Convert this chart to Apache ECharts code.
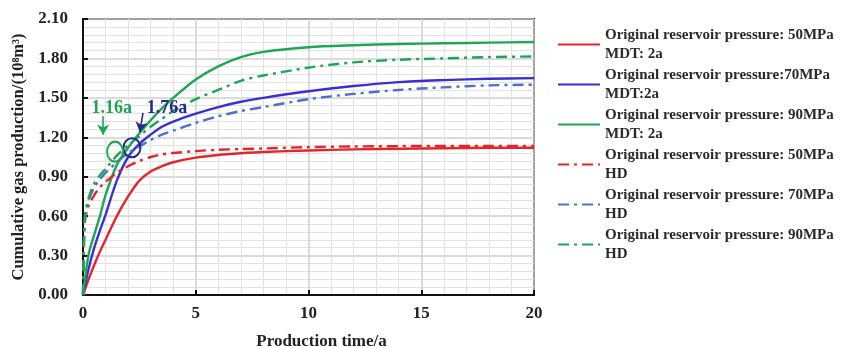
<!DOCTYPE html>
<html><head><meta charset="utf-8">
<script src="https://cdn.jsdelivr.net/npm/echarts@6/dist/echarts.min.js"></script>
<style>html,body{margin:0;padding:0;background:#fff}#c{width:841px;height:348px}</style>
</head><body><div id="c"></div>
<script>
const timeMDT = [0,0.25,0.5,0.75,1,1.5,2,2.5,3,3.5,4,5,6,7,8,10,12,14,16,18,20];
const timeHD  = [0,0.05,0.1,0.25,0.5,0.75,1,1.5,2,2.5,3,3.5,4,5,6,7,8,10,12,14,16,18,20];
const mdt50 = [0,0.12,0.23,0.33,0.42,0.60,0.75,0.87,0.94,0.98,1.01,1.045,1.065,1.078,1.088,1.10,1.108,1.113,1.117,1.12,1.12];
const mdt70 = [0,0.20,0.36,0.49,0.61,0.87,1.05,1.15,1.22,1.28,1.32,1.38,1.43,1.47,1.50,1.55,1.59,1.62,1.635,1.645,1.65];
const mdt90 = [0,0.31,0.46,0.60,0.76,0.99,1.12,1.23,1.33,1.42,1.50,1.64,1.74,1.81,1.85,1.885,1.90,1.91,1.915,1.92,1.925];
const hd50 = [0,0.45,0.58,0.68,0.76,0.82,0.86,0.93,0.98,1.02,1.05,1.07,1.08,1.095,1.105,1.11,1.115,1.125,1.13,1.133,1.135,1.135,1.135];
const hd70 = [0,0.45,0.60,0.72,0.82,0.88,0.93,1.01,1.08,1.13,1.18,1.22,1.25,1.31,1.36,1.40,1.43,1.49,1.53,1.56,1.58,1.595,1.60];
const hd90 = [0,0.45,0.62,0.74,0.85,0.91,0.96,1.06,1.14,1.21,1.28,1.34,1.40,1.49,1.56,1.63,1.67,1.73,1.77,1.79,1.80,1.81,1.815];
const seriesNames = [
  'Original reservoir pressure: 50MPa\nMDT: 2a',
  'Original reservoir pressure:70MPa\nMDT:2a',
  'Original reservoir pressure: 90MPa\nMDT: 2a',
  'Original reservoir pressure: 50MPa\nHD',
  'Original reservoir pressure: 70MPa\nHD',
  'Original reservoir pressure: 90MPa\nHD'
];
const annoText = ['1.16a','1.76a'];
const annoTextPos = [[1.28,1.42],[3.72,1.42]];
const annoArrows = [[[0.89,1.36],[0.89,1.22]],[[2.66,1.385],[2.52,1.24]]];
const annoCircles = [[1.42,1.09],[2.17,1.12]];

const RED='#e3262b', BLUE='#3a2fd2', GREEN='#1fa654', LBLUE='#4a72c6', NAVY='#25288c';
const FONT='Liberation Serif';
const dashDot=[11,5,3,5];
function pairs(t,v){return t.map((x,i)=>[x,v[i]]);}
function line(name,t,v,color,dashed,extra){
  return Object.assign({name,type:'line',data:pairs(t,v),symbol:'none',smooth:0.3,
    lineStyle:{color,width:2.4,type:dashed?dashDot:'solid'},itemStyle:{color},z:3},extra||{});
}
const chart=echarts.init(document.getElementById('c'));
chart.setOption({
  animation:false,
  grid:{left:83,top:19,right:307,bottom:53,outerBoundsMode:'none',containLabel:false,show:true,borderColor:'#111',borderWidth:1.8,backgroundColor:'transparent'},
  legend:{orient:'vertical',left:552,top:11,itemWidth:42,itemHeight:14,itemGap:-17,
    itemStyle:{color:'rgba(0,0,0,0)',borderWidth:0,opacity:0},
    textStyle:{fontFamily:FONT,fontWeight:'bold',fontSize:15,color:'#2a2a2a',lineHeight:19,padding:[19,0,0,0]},
    data:seriesNames},
  xAxis:{type:'value',min:0,max:20,interval:5,
    name:'Production time/a',nameLocation:'middle',nameGap:38,
    nameTextStyle:{fontFamily:FONT,fontWeight:'bold',fontSize:17,color:'#222',padding:[0,0,0,26]},
    axisLine:{lineStyle:{color:'#111',width:2}},
    axisTick:{inside:true,length:5,lineStyle:{color:'#111',width:2}},
    axisLabel:{fontFamily:FONT,fontWeight:'bold',fontSize:17,color:'#222',margin:10},
    splitLine:{lineStyle:{color:'#cfcfcf',width:1.5}},
    minorTick:{show:false,splitNumber:5},
    minorSplitLine:{show:true,lineStyle:{color:'#e2e2e2',width:1}}},
  yAxis:{type:'value',min:0,max:2.1,interval:0.3,
    name:'Cumulative gas production/(10⁸m³)',nameLocation:'middle',nameGap:54,
    nameTextStyle:{fontFamily:FONT,fontWeight:'bold',fontSize:16.5,color:'#222'},
    axisLine:{show:true,lineStyle:{color:'#111',width:2}},
    axisTick:{show:true,inside:true,length:5,lineStyle:{color:'#111',width:2}},
    axisLabel:{fontFamily:FONT,fontWeight:'bold',fontSize:17,color:'#222',margin:15,formatter:v=>v.toFixed(2)},
    splitLine:{lineStyle:{color:'#cfcfcf',width:1.5}},
    minorTick:{show:false,splitNumber:5},
    minorSplitLine:{show:true,lineStyle:{color:'#e2e2e2',width:1}}},
  series:[
    line(seriesNames[0],timeMDT,mdt50,RED,false),
    line(seriesNames[1],timeMDT,mdt70,BLUE,false,{
      markPoint:{silent:true,data:[
        {coord:annoCircles[1],symbol:'circle',symbolSize:[17,19],itemStyle:{color:'rgba(0,0,0,0)',borderColor:NAVY,borderWidth:2},label:{show:false}},
        {coord:annoTextPos[1],symbol:'circle',symbolSize:1,itemStyle:{color:'rgba(0,0,0,0)'},
          label:{show:true,position:'inside',formatter:annoText[1],fontFamily:FONT,fontWeight:'bold',fontSize:18,color:NAVY}}]},
      markLine:{silent:true,symbol:['none','arrow'],symbolSize:[9,10],label:{show:false},
        lineStyle:{color:NAVY,width:1.6,type:'solid'},
        data:[[{coord:annoArrows[1][0]},{coord:annoArrows[1][1]}]]}}),
    line(seriesNames[2],timeMDT,mdt90,GREEN,false,{
      markPoint:{silent:true,data:[
        {coord:annoCircles[0],symbol:'circle',symbolSize:[16,20],itemStyle:{color:'rgba(0,0,0,0)',borderColor:GREEN,borderWidth:2},label:{show:false}},
        {coord:annoTextPos[0],symbol:'circle',symbolSize:1,itemStyle:{color:'rgba(0,0,0,0)'},
          label:{show:true,position:'inside',formatter:annoText[0],fontFamily:FONT,fontWeight:'bold',fontSize:18,color:GREEN}}]},
      markLine:{silent:true,symbol:['none','arrow'],symbolSize:[9,10],label:{show:false},
        lineStyle:{color:GREEN,width:1.6,type:'solid'},
        data:[[{coord:annoArrows[0][0]},{coord:annoArrows[0][1]}]]}}),
    line(seriesNames[3],timeHD,hd50,RED,true),
    line(seriesNames[4],timeHD,hd70,LBLUE,true),
    line(seriesNames[5],timeHD,hd90,GREEN,true)
  ]
});
</script></body></html>
